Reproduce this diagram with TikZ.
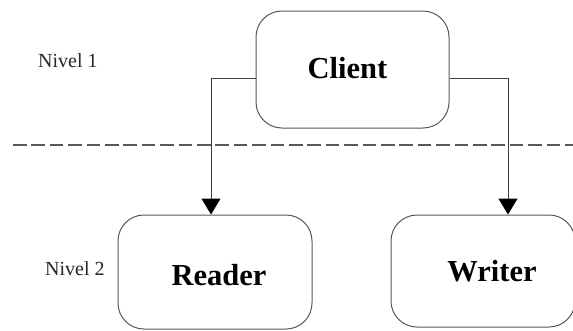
\documentclass[tikz,border=0pt]{standalone}
\usepackage{fontspec}
\setmainfont{Liberation Serif}
\usetikzlibrary{arrows.meta}
\begin{document}
\begin{tikzpicture}[x=1pt,y=1pt,
  blk/.style={draw=black!65, line width=1pt, rounded corners=26pt, minimum width=194pt, minimum height=116pt, inner sep=0pt},
  btxt/.style={font=\fontsize{30.5}{30.5}\selectfont\bfseries, inner sep=0pt, anchor=base},
  lvl/.style={font=\fontsize{20}{20}\selectfont, inner sep=0pt, anchor=base west, text=black!85},
  arr/.style={draw=black!75, line width=1pt, -{Triangle[length=16pt,width=19pt,color=black]}}]
\clip (0,0) rectangle (573,-330);
\useasboundingbox (0,0) rectangle (573,-330);
\fill[white] (0,0) rectangle (573,-330);
\node[blk, minimum width=193pt, minimum height=117pt] (client) at (352.5,-69.5) {};
\node[blk, minimum height=114pt] (reader) at (215,-272) {};
\node[blk, minimum width=184pt, minimum height=112pt] (writer) at (483,-271) {};
\node[btxt] (clientt) at (347.5,-78) {Client};
\node[btxt] (readert) at (219,-285) {Reader};
\node[btxt] (writert) at (492,-281) {Writer};
\node[lvl] (n1) at (38,-67) {Nivel 1};
\node[lvl] (n2) at (45,-275) {Nivel 2};
\coordinate (dl) at (13,-145);
\coordinate (dr) at (573,-145);
\draw[black!65, line width=1.3pt, dash pattern=on 13.5pt off 4.9pt] (dl) -- (dr);
\draw[arr] ([yshift=-8.5pt]client.west) -| ([xshift=-4pt]reader.north);
\draw[arr] ([yshift=-8.5pt]client.east) -| ([xshift=25pt]writer.north);
\end{tikzpicture}
\end{document}
